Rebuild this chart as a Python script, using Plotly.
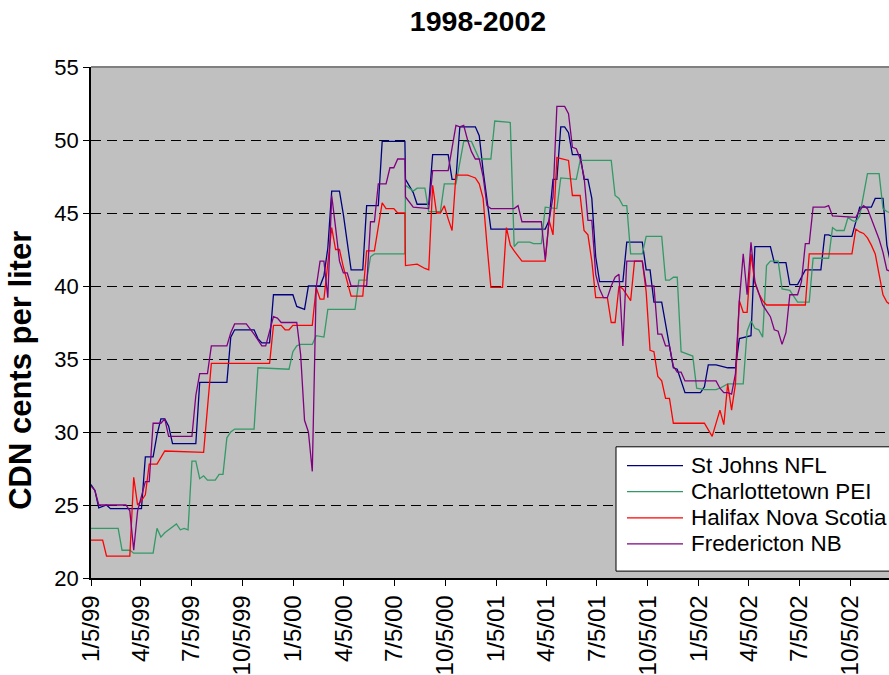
import plotly.graph_objects as go

# Weekly retail gasoline prices (CDN cents per liter), Atlantic Canada cities.
# Each series lists the weeks where its line changes direction.

stjohns_dates = [
    "1999-01-05", "1999-01-12", "1999-01-19", "1999-02-02", "1999-02-09", "1999-04-06", "1999-04-13",
    "1999-04-27", "1999-05-04", "1999-05-11", "1999-05-18", "1999-05-25", "1999-06-01", "1999-07-13",
    "1999-07-20", "1999-09-07", "1999-09-14", "1999-09-21", "1999-10-26", "1999-11-02", "1999-11-09",
    "1999-11-23", "1999-11-30", "2000-01-04", "2000-01-11", "2000-01-25", "2000-02-01", "2000-02-22",
    "2000-02-29", "2000-03-07", "2000-03-14", "2000-03-28", "2000-04-04", "2000-04-11", "2000-04-18",
    "2000-05-09", "2000-05-16", "2000-06-06", "2000-06-13", "2000-07-24", "2000-07-25", "2000-08-08",
    "2000-08-15", "2000-09-05", "2000-09-12", "2000-10-10", "2000-10-17", "2000-10-24", "2000-10-31",
    "2000-11-28", "2000-12-05", "2000-12-12", "2000-12-19", "2000-12-26", "2001-04-03", "2001-04-10",
    "2001-04-17", "2001-04-24", "2001-05-01", "2001-05-08", "2001-05-15", "2001-05-22", "2001-06-05",
    "2001-06-12", "2001-06-19", "2001-06-26", "2001-07-03", "2001-07-10", "2001-08-21", "2001-08-28",
    "2001-09-25", "2001-10-02", "2001-10-09", "2001-10-16", "2001-10-30", "2001-11-06", "2001-11-13",
    "2001-11-20", "2001-11-27", "2001-12-04", "2001-12-11", "2002-01-08", "2002-01-15", "2002-01-22",
    "2002-02-05", "2002-02-26", "2002-03-12", "2002-03-19", "2002-04-02", "2002-04-09", "2002-04-16",
    "2002-05-14", "2002-05-21", "2002-06-11", "2002-06-18", "2002-07-02", "2002-07-09", "2002-07-16",
    "2002-08-13", "2002-08-20", "2002-08-27", "2002-09-03", "2002-10-08", "2002-10-15", "2002-10-22",
    "2002-11-12", "2002-11-19", "2002-12-03", "2002-12-10", "2002-12-17",
]
stjohns_vals = [
    26.4, 26.0, 24.8, 25.0, 24.75, 24.75, 28.3,
    28.3, 29.8, 30.9, 30.9, 30.4, 29.2, 29.2,
    33.4, 33.4, 36.5, 37.0, 37.0, 36.4, 36.1,
    36.1, 39.4, 39.4, 38.6, 38.4, 40.0, 40.0,
    40.7, 42.6, 46.5, 46.5, 44.9, 43.0, 41.1,
    41.1, 45.5, 45.5, 49.9, 49.9, 47.3, 46.4,
    45.6, 45.6, 49.0, 49.0, 47.3, 47.3, 50.9,
    50.9, 50.3, 47.9, 45.7, 43.9, 43.9, 44.5,
    47.3, 47.3, 50.9, 50.9, 50.5, 49.0, 49.0,
    47.3, 47.3, 46.0, 42.0, 40.3, 40.3, 43.0,
    43.0, 41.1, 41.1, 38.9, 38.9, 37.4, 35.9,
    34.4, 34.3, 33.5, 32.7, 32.7, 33.1, 34.6,
    34.6, 34.4, 34.4, 36.4, 36.5, 36.6, 42.7,
    42.7, 41.6, 41.6, 40.1, 40.1, 40.6, 41.1,
    41.1, 43.5, 43.5, 43.4, 43.4, 44.5, 45.4,
    45.4, 46.0, 46.0, 42.8, 41.5,
]

charlottetown_dates = [
    "1999-01-05", "1999-02-23", "1999-03-02", "1999-03-16", "1999-03-23", "1999-04-27", "1999-05-04",
    "1999-05-11", "1999-05-18", "1999-05-25", "1999-06-01", "1999-06-08", "1999-06-15", "1999-06-22",
    "1999-06-29", "1999-07-06", "1999-07-13", "1999-07-20", "1999-07-27", "1999-08-03", "1999-08-17",
    "1999-08-24", "1999-08-31", "1999-09-07", "1999-09-14", "1999-09-21", "1999-10-26", "1999-11-02",
    "1999-12-28", "2000-01-04", "2000-01-11", "2000-01-18", "2000-02-08", "2000-02-15", "2000-02-29",
    "2000-03-07", "2000-04-25", "2000-05-02", "2000-05-16", "2000-05-23", "2000-05-30", "2000-07-24",
    "2000-07-25", "2000-08-08", "2000-08-15", "2000-08-29", "2000-09-05", "2000-09-26", "2000-10-03",
    "2000-10-24", "2000-11-07", "2000-11-21", "2000-12-05", "2000-12-26", "2001-01-02", "2001-01-23",
    "2001-01-30", "2001-02-06", "2001-02-13", "2001-03-06", "2001-03-13", "2001-03-27", "2001-04-03",
    "2001-04-24", "2001-05-01", "2001-05-29", "2001-06-05", "2001-07-31", "2001-08-07", "2001-08-14",
    "2001-08-21", "2001-08-28", "2001-09-04", "2001-09-25", "2001-10-02", "2001-10-30", "2001-11-06",
    "2001-11-13", "2001-11-20", "2001-11-27", "2001-12-04", "2001-12-11", "2001-12-25", "2002-01-01",
    "2002-01-15", "2002-02-05", "2002-02-12", "2002-02-26", "2002-03-26", "2002-04-02", "2002-04-09",
    "2002-04-16", "2002-04-23", "2002-04-30", "2002-05-07", "2002-05-14", "2002-05-28", "2002-06-04",
    "2002-06-18", "2002-07-02", "2002-07-23", "2002-07-30", "2002-08-27", "2002-09-03", "2002-09-10",
    "2002-09-24", "2002-10-01", "2002-10-08", "2002-10-15", "2002-10-22", "2002-11-05", "2002-11-26",
    "2002-12-03", "2002-12-10", "2002-12-17",
]
charlottetown_vals = [
    23.4, 23.4, 21.9, 21.9, 21.7, 21.7, 23.4,
    22.8, 23.1, 23.3, 23.5, 23.7, 23.3, 23.4,
    23.3, 28.0, 28.0, 26.8, 27.0, 26.7, 26.7,
    27.1, 27.1, 29.6, 30.0, 30.2, 30.2, 34.4,
    34.3, 35.5, 35.9, 36.0, 36.0, 36.6, 36.5,
    38.4, 38.4, 40.4, 40.4, 42.0, 42.2, 42.2,
    46.9, 46.5, 46.7, 46.7, 45.1, 45.1, 47.0,
    47.0, 49.9, 49.9, 48.7, 48.7, 51.3, 51.2,
    51.2, 42.7, 43.0, 43.0, 42.9, 42.9, 45.4,
    45.3, 47.4, 47.3, 48.6, 48.6, 46.2, 46.0,
    45.5, 45.5, 42.2, 42.2, 43.4, 43.4, 40.4,
    40.4, 40.6, 40.6, 35.5, 35.4, 35.2, 33.0,
    32.9, 32.9, 33.0, 33.3, 33.3, 36.9, 37.6,
    37.1, 37.0, 36.5, 41.4, 41.7, 41.7, 39.8,
    39.7, 38.9, 38.9, 41.9, 41.9, 44.0, 43.8,
    43.8, 44.7, 44.5, 44.4, 44.8, 47.7, 47.7,
    45.3, 45.1, 45.0,
]

halifax_dates = [
    "1999-01-05", "1999-01-26", "1999-02-02", "1999-03-16", "1999-03-23", "1999-03-30", "1999-04-06",
    "1999-04-13", "1999-04-20", "1999-05-04", "1999-05-18", "1999-07-27", "1999-08-10", "1999-11-23",
    "1999-11-30", "1999-12-14", "1999-12-21", "1999-12-28", "2000-01-04", "2000-02-08", "2000-02-15",
    "2000-02-22", "2000-02-29", "2000-03-14", "2000-03-21", "2000-03-28", "2000-04-04", "2000-04-18",
    "2000-05-09", "2000-05-16", "2000-05-30", "2000-06-13", "2000-06-20", "2000-07-04", "2000-07-11",
    "2000-07-24", "2000-07-25", "2000-08-15", "2000-08-29", "2000-09-05", "2000-09-12", "2000-09-19",
    "2000-09-26", "2000-10-03", "2000-10-10", "2000-10-17", "2000-10-24", "2000-11-14", "2000-11-21",
    "2000-11-28", "2000-12-05", "2000-12-12", "2000-12-19", "2000-12-26", "2001-01-16", "2001-01-23",
    "2001-01-30", "2001-02-06", "2001-02-20", "2001-04-03", "2001-04-10", "2001-04-17", "2001-04-24",
    "2001-05-15", "2001-05-22", "2001-06-05", "2001-06-12", "2001-06-19", "2001-06-26", "2001-07-03",
    "2001-07-24", "2001-07-31", "2001-08-07", "2001-08-14", "2001-08-21", "2001-08-28", "2001-09-04",
    "2001-09-11", "2001-09-25", "2001-10-02", "2001-10-09", "2001-10-16", "2001-10-23", "2001-10-30",
    "2001-11-06", "2001-11-13", "2001-11-20", "2002-01-15", "2002-01-22", "2002-01-29", "2002-02-12",
    "2002-02-19", "2002-02-26", "2002-03-05", "2002-03-12", "2002-03-19", "2002-03-26", "2002-04-02",
    "2002-04-09", "2002-04-16", "2002-04-23", "2002-04-30", "2002-05-07", "2002-07-16", "2002-07-23",
    "2002-10-08", "2002-10-15", "2002-10-22", "2002-10-29", "2002-11-05", "2002-11-12", "2002-11-19",
    "2002-11-26", "2002-12-03", "2002-12-10", "2002-12-17",
]
halifax_vals = [
    22.6, 22.6, 21.5, 21.5, 26.9, 25.0, 25.3,
    25.7, 27.8, 27.8, 28.7, 28.6, 34.7, 34.7,
    37.3, 37.3, 37.0, 37.0, 37.3, 37.3, 39.9,
    39.1, 39.1, 44.0, 42.5, 42.5, 41.3, 39.3,
    39.3, 42.4, 42.4, 45.7, 45.3, 45.3, 45.0,
    45.0, 41.4, 41.5, 41.2, 41.1, 46.9, 45.0,
    45.0, 45.5, 44.6, 43.8, 47.6, 47.6, 47.5,
    47.4, 47.0, 46.0, 42.8, 39.9, 39.9, 44.0,
    42.8, 42.4, 41.7, 41.7, 44.5, 43.5, 48.8,
    48.6, 46.2, 46.2, 43.8, 43.5, 41.7, 39.2,
    39.2, 37.5, 37.5, 40.0, 39.8, 39.4, 39.0,
    41.7, 41.7, 39.6, 35.6, 35.5, 33.8, 33.5,
    32.3, 32.3, 30.6, 30.6, 30.1, 29.7, 31.5,
    30.5, 33.3, 31.5, 33.3, 39.0, 38.2, 38.2,
    42.2, 40.2, 39.5, 39.0, 38.7, 38.7, 42.2,
    42.2, 43.9, 43.7, 43.6, 43.3, 42.8, 42.2,
    40.8, 39.4, 38.9, 38.7,
]

fredericton_dates = [
    "1999-01-05", "1999-01-12", "1999-01-19", "1999-03-09", "1999-03-16", "1999-03-23", "1999-03-30",
    "1999-04-06", "1999-04-13", "1999-04-20", "1999-04-27", "1999-05-11", "1999-05-18", "1999-05-25",
    "1999-07-06", "1999-07-13", "1999-07-20", "1999-08-03", "1999-08-10", "1999-09-07", "1999-09-14",
    "1999-09-21", "1999-10-12", "1999-10-26", "1999-11-09", "1999-11-16", "1999-11-30", "1999-12-07",
    "1999-12-14", "2000-01-11", "2000-01-18", "2000-01-25", "2000-02-01", "2000-02-08", "2000-02-15",
    "2000-02-22", "2000-02-29", "2000-03-07", "2000-03-14", "2000-03-21", "2000-03-28", "2000-04-04",
    "2000-04-11", "2000-04-18", "2000-05-16", "2000-05-23", "2000-05-30", "2000-06-06", "2000-06-20",
    "2000-06-27", "2000-07-04", "2000-07-11", "2000-07-24", "2000-07-25", "2000-08-08", "2000-09-05",
    "2000-09-12", "2000-10-10", "2000-10-24", "2000-10-31", "2000-11-07", "2000-11-14", "2000-11-21",
    "2000-11-28", "2000-12-05", "2000-12-12", "2000-12-19", "2000-12-26", "2001-02-06", "2001-02-13",
    "2001-02-20", "2001-03-27", "2001-04-03", "2001-04-10", "2001-04-17", "2001-04-24", "2001-05-08",
    "2001-05-15", "2001-05-22", "2001-05-29", "2001-06-05", "2001-06-12", "2001-06-19", "2001-06-26",
    "2001-07-03", "2001-07-10", "2001-07-17", "2001-07-24", "2001-07-31", "2001-08-07", "2001-08-14",
    "2001-08-21", "2001-08-28", "2001-09-25", "2001-10-02", "2001-10-16", "2001-10-23", "2001-10-30",
    "2001-11-06", "2001-11-13", "2001-11-20", "2001-11-27", "2001-12-04", "2001-12-11", "2002-02-05",
    "2002-02-12", "2002-02-19", "2002-02-26", "2002-03-05", "2002-03-12", "2002-03-19", "2002-03-26",
    "2002-04-02", "2002-04-09", "2002-04-16", "2002-04-23", "2002-04-30", "2002-05-07", "2002-05-14",
    "2002-05-21", "2002-05-28", "2002-06-04", "2002-06-11", "2002-06-18", "2002-07-02", "2002-07-09",
    "2002-07-16", "2002-07-23", "2002-07-30", "2002-08-20", "2002-08-27", "2002-09-03", "2002-10-15",
    "2002-10-22", "2002-10-29", "2002-11-05", "2002-11-12", "2002-11-19", "2002-11-26", "2002-12-03",
    "2002-12-10", "2002-12-17",
]
fredericton_vals = [
    26.3, 26.0, 25.0, 25.0, 24.6, 21.9, 24.6,
    25.6, 26.6, 26.6, 30.6, 30.6, 30.9, 29.7,
    29.7, 32.5, 34.0, 34.0, 35.9, 35.9, 36.8,
    37.4, 37.4, 36.7, 35.9, 35.9, 37.9, 37.8,
    37.5, 37.5, 35.3, 30.8, 30.0, 27.3, 39.9,
    41.7, 41.7, 39.2, 46.2, 44.0, 41.7, 40.9,
    40.9, 40.0, 40.0, 44.4, 44.4, 47.0, 47.0,
    48.1, 48.1, 48.7, 48.7, 46.1, 45.4, 45.3,
    47.9, 47.9, 51.0, 50.9, 51.0, 50.0, 49.2,
    48.7, 48.7, 47.5, 45.5, 45.3, 45.3, 45.5,
    44.4, 44.4, 41.8, 44.5, 46.1, 52.3, 52.3,
    51.8, 49.5, 49.4, 48.7, 47.5, 44.5, 44.5,
    40.8, 39.8, 39.2, 39.2, 40.0, 40.6, 40.8,
    35.9, 41.7, 41.7, 40.0, 40.0, 36.7, 36.7,
    35.9, 35.9, 34.5, 34.1, 34.1, 33.5, 33.5,
    33.0, 32.7, 32.7, 32.6, 34.0, 39.0, 42.2,
    39.4, 43.0, 40.3, 39.5, 38.7, 38.3, 37.9,
    37.0, 36.9, 36.0, 36.8, 39.4, 39.4, 40.3,
    42.9, 42.9, 45.4, 45.4, 45.5, 44.8, 44.7,
    45.2, 45.5, 45.3, 44.6, 44.0, 43.2, 42.3,
    41.1, 41.0,
]

series_names = ["St Johns NFL", "Charlottetown PEI", "Halifax Nova Scotia", "Fredericton NB"]
series_colors = ["#000080", "#339966", "#FF0000", "#800080"]

tick_dates = [
    "1999-01-05", "1999-04-05", "1999-07-05", "1999-10-05",
    "2000-01-05", "2000-04-05", "2000-07-05", "2000-10-05",
    "2001-01-05", "2001-04-05", "2001-07-05", "2001-10-05",
    "2002-01-05", "2002-04-05", "2002-07-05", "2002-10-05",
]
tick_labels = [
    "1/5/99", "4/5/99", "7/5/99", "10/5/99",
    "1/5/00", "4/5/00", "7/5/00", "10/5/00",
    "1/5/01", "4/5/01", "7/5/01", "10/5/01",
    "1/5/02", "4/5/02", "7/5/02", "10/5/02",
]
y_ticks = [20, 25, 30, 35, 40, 45, 50, 55]

FONT = "Liberation Sans, Arial, sans-serif"

# Figure geometry (pixels) used to place the legend box in paper coordinates
W, H = 889, 675
M_L, M_R, M_T, M_B = 91, 0, 67, 90
PW, PH = W - M_L - M_R, H - M_T - M_B


def px_x(px):
    return (px - M_L) / PW


def px_y(py):
    return (H - M_B - py) / PH


fig = go.Figure()
all_dates = [stjohns_dates, charlottetown_dates, halifax_dates, fredericton_dates]
all_vals = [stjohns_vals, charlottetown_vals, halifax_vals, fredericton_vals]
for name, color, xs, ys in zip(series_names, series_colors, all_dates, all_vals):
    fig.add_trace(go.Scatter(
        x=xs, y=ys, name=name, mode="lines",
        line=dict(color=color, width=1.3), showlegend=False,
    ))

# Boxed legend in the lower right, running off the right edge of the chart
legend_shapes = [dict(
    type="rect", xref="paper", yref="paper",
    x0=px_x(616), x1=px_x(905), y0=px_y(578), y1=px_y(452),
    fillcolor="white", line=dict(color="black", width=1), layer="above",
)]
legend_notes = []
row_top, row_step = 471, 26.5
for i, (name, color) in enumerate(zip(series_names, series_colors)):
    cy = px_y(row_top + i * row_step)
    legend_shapes.append(dict(
        type="line", xref="paper", yref="paper",
        x0=px_x(627), x1=px_x(683), y0=cy, y1=cy,
        line=dict(color=color, width=1.3), layer="above",
    ))
    legend_notes.append(dict(
        text=name, xref="paper", yref="paper", x=px_x(689), y=cy,
        xanchor="left", yanchor="middle", showarrow=False,
        font=dict(family=FONT, size=22.4, color="black"),
    ))

shapes = [dict(
    type="line", xref="paper", yref="paper", x0=0, x1=1, y0=1, y1=1,
    line=dict(color="#808080", width=2), layer="above",
)] + legend_shapes

annotations = [dict(
    text="<b>CDN cents per liter</b>", textangle=-90,
    xref="paper", yref="paper", x=px_x(21), y=px_y(375),
    xanchor="center", yanchor="middle", showarrow=False,
    font=dict(family=FONT, size=31, color="black"),
)] + legend_notes

fig.update_layout(
    width=W, height=H,
    margin=dict(l=M_L, r=M_R, t=M_T, b=M_B),
    paper_bgcolor="white",
    plot_bgcolor="#C0C0C0",
    font=dict(family=FONT, color="black"),
    title=dict(
        text="<b>1998-2002</b>", font=dict(family=FONT, size=28.5, color="black"),
        x=478 / W, xref="container", xanchor="center",
        y=1 - 21 / H, yref="container", yanchor="middle",
    ),
    showlegend=False,
    xaxis=dict(
        type="date",
        range=["1999-01-05", "2002-12-13 20:00"],
        tickmode="array", tickvals=tick_dates, ticktext=tick_labels,
        tickangle=-90, tickfont=dict(family=FONT, size=24, color="black"),
        ticks="outside", ticklen=6, tickcolor="black", tickwidth=1,
        showline=True, linecolor="black", linewidth=1.5,
        showgrid=False, zeroline=False,
    ),
    yaxis=dict(
        range=[20, 55],
        tickmode="array", tickvals=y_ticks,
        tickfont=dict(family=FONT, size=22, color="black"),
        ticks="outside", ticklen=6, tickcolor="black", tickwidth=1,
        showline=True, linecolor="black", linewidth=1.5,
        showgrid=True, gridcolor="black", gridwidth=1, griddash="10px,6px",
        zeroline=False,
    ),
    annotations=annotations,
    shapes=shapes,
)

fig.write_html("out.html")
